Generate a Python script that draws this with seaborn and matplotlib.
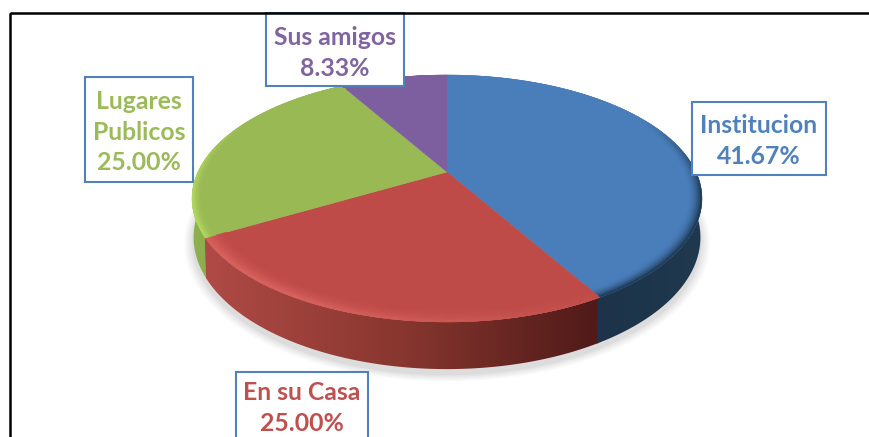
import numpy as np
import matplotlib
matplotlib.use('Agg')
import matplotlib.pyplot as plt
from matplotlib.collections import PolyCollection
from matplotlib.patches import Rectangle, Polygon
import seaborn as sns

labels = ['Institucion', 'En su Casa', 'Lugares\nPublicos', 'Sus amigos']
values = [41.67, 25.00, 25.00, 8.33]

top_colors = ['#4A7EBB', '#BE4B48', '#98B954', '#7D5F9F']
text_colors = ['#4F81BD', '#C0504D', '#9BBB59', '#8064A2']
side_colors = [['#1C3349', '#20394F'], ['#B04A46', '#88362F', '#4E1A18'],
               ['#8FB050', '#8AAB4C'], ['#6A4F88', '#6A4F88']]
rim_colors = ['#1F3B57', '#D8625E', '#B4D962', '#7D5F9F']
rim_widths = [0.05, 0.08, 0.04, 0.02]
boxes = [(692, 102, 134, 73), (236, 372, 132, 80), (85, 77, 108, 105), (266, 13, 138, 73)]
label_y = [141, 408, 132, 53]

sns.set_theme(style='white')
plt.rcParams['font.family'] = ['Lato', 'DejaVu Sans']

CX, CY, K, A, B, DEPTH, TAPER = 447, 172, 0.2146, 249, 117.8, 37, 0.994


def project(r, theta, depth=0.0):
    # theta clockwise from the top of the pie, degrees
    u = r * np.sin(np.radians(theta))
    v = r * np.cos(np.radians(theta))
    w = 1 + K * v
    x = A * u / w
    if depth:
        x = x * TAPER
    return CX + x, CY - B * v / w + depth / w


def hex_mix(c1, c2, t):
    a = np.array(matplotlib.colors.to_rgb(c1))
    b = np.array(matplotlib.colors.to_rgb(c2))
    return tuple(a + (b - a) * t)


fig, ax = plt.subplots(figsize=(8.7, 4.37), dpi=100)
fig.subplots_adjust(0, 0, 1, 1)
ax.axis('off')

stops = np.cumsum([0] + values) / sum(values) * 360

# soft shadow below the pie
ring = np.linspace(0, 360, 181)
for grow, alpha in zip([1.035, 1.028, 1.02, 1.012, 1.005], [0.04, 0.05, 0.06, 0.07, 0.08]):
    x, y = project(grow, ring, DEPTH + 4)
    ax.fill(x, y, color='#808080', alpha=alpha, lw=0, zorder=1)

# side wall, horizontal gradient clipped to the band under each slice
for i in [2, 1, 0]:
    a = np.arange(stops[i], min(stops[i + 1], 285) + 0.5, 0.5)
    a = a[(a >= 80)]
    x0, y0 = project(1, a)
    x1, y1 = project(1, a, DEPTH)
    band = Polygon(np.c_[np.r_[x0, x1[::-1]], np.r_[y0, y1[::-1]]], closed=True, transform=ax.transData)
    grad = np.array(sns.blend_palette(side_colors[i], 256))[None, :, :3]
    lo, hi = min(x0.min(), x1.min()), max(x0.max(), x1.max())
    im = ax.imshow(grad, extent=(lo, hi, 400, 150), aspect='auto', zorder=2, interpolation='bilinear')
    im.set_clip_path(band)

# top surface, cut from the values
for i, val in enumerate(values):
    a = np.linspace(stops[i], stops[i + 1], 200)
    x, y = project(1, a)
    ax.fill(np.r_[CX, x], np.r_[CY, y], color=top_colors[i], lw=0.3, zorder=3)

    # bevel along the outer edge
    radii = np.linspace(1 - rim_widths[i], 1, 9)
    quads, cols = [], []
    for k in range(len(radii) - 1):
        xa, ya = project(radii[k], a)
        xb, yb = project(radii[k + 1], a)
        t = ((k + 1) / (len(radii) - 1)) ** 2
        for j in range(len(a) - 1):
            s = 1.0
            if i == 1:
                s = np.clip((a[j] - 140) / 70, 0, 1)
            if i == 2:
                s = np.clip((300 - a[j]) / 40, 0, 1)
            if i == 0:
                s = np.clip((a[j] - 60) / 40, 0, 1)
            quads.append([(xa[j], ya[j]), (xa[j + 1], ya[j + 1]), (xb[j + 1], yb[j + 1]), (xb[j], yb[j])])
            cols.append(hex_mix(top_colors[i], rim_colors[i], t * s))
    ax.add_collection(PolyCollection(quads, facecolors=cols, edgecolors=cols, lw=0.3, zorder=4))

# data labels
for i, val in enumerate(values):
    bx, by, bw, bh = boxes[i]
    ax.add_patch(Rectangle((bx, by), bw, bh, fc='white', ec='#4F81BD', lw=1.5, zorder=5))
    ax.text(bx + bw / 2, label_y[i], f'{labels[i]}\n{val:.2f}%', color=text_colors[i], fontsize=17.8,
            fontweight='bold', ha='center', va='center', linespacing=1.42, zorder=6)

# outer frame of the picture, runs off the right and bottom
ax.add_patch(Rectangle((10, 13), 900, 500, fc='none', ec='black', lw=1.8, zorder=7))

ax.set_xlim(0, 870)
ax.set_ylim(437, 0)
fig.savefig('out.png', dpi=100)
